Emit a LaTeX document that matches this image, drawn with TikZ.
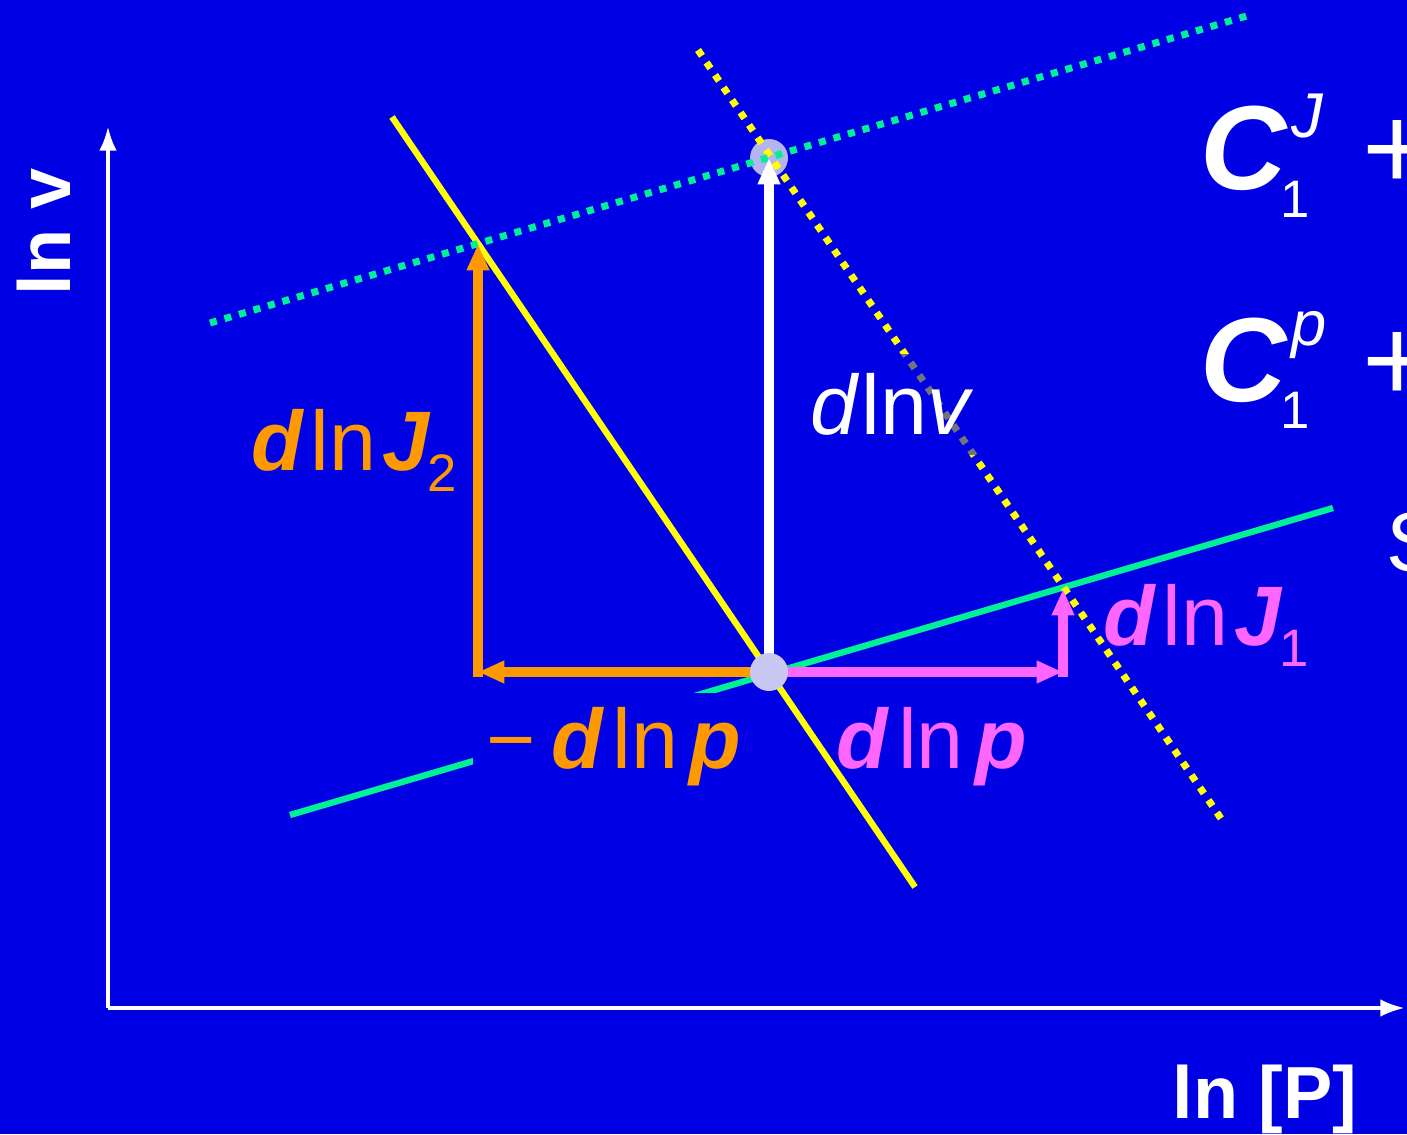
\documentclass[tikz,border=0pt]{standalone}
\usepackage{fontspec}
\setmainfont{Liberation Sans}
\usetikzlibrary{arrows.meta, positioning}
\definecolor{bgblue}{RGB}{0,0,228}
\definecolor{myyellow}{RGB}{255,255,0}
\definecolor{mygreen}{RGB}{0,240,150}
\definecolor{myorange}{RGB}{255,153,0}
\definecolor{mypink}{RGB}{255,102,255}
\definecolor{mydot}{RGB}{200,200,242}
\newcommand{\bi}[1]{\textbf{\textit{#1}}}
\newcommand{\gp}{\kern1.7pt}
\newcommand{\gpp}{\kern3.2pt}
\newcommand{\labsize}{\fontsize{24}{28}\selectfont}
\newcommand{\axsize}{\fontsize{21}{25}\selectfont\bfseries}
\newcommand{\bigsize}{\fontsize{34}{40}\selectfont}
\newcommand{\lowidx}[1]{\kern-0.8pt\raisebox{-6pt}{\fontsize{15}{15}\selectfont #1}}
\tikzset{
  >=latex,
  % assi
  axis arrow/.style={white,line width=1.2pt,-{Latex[length=7pt,width=5pt]}},
  % rette
  curve/.style={line width=1.8pt},
  curve dotted/.style={line width=2pt,dash pattern=on 2pt off 2.3pt},
  % spostamenti
  shift arrow/.style={line width=2.8pt,-{Triangle[length=7.5pt,width=6pt]}},
  state pt/.style={circle,fill=mydot,inner sep=0,minimum size=10.8pt},
  lbl/.style={inner sep=0pt,anchor=base west,font=\labsize},
  lbl box/.style={lbl,inner xsep=4pt,inner ysep=4pt}
}
\begin{document}
\begin{tikzpicture}[x=0.01cm,y=-0.01cm]
  \useasboundingbox (0,0) rectangle (1407,1134);
  \fill[bgblue] (0,0) rectangle (1407,1134);
  \clip (0,0) rectangle (1407,1134);

  % punti notevoli
  \coordinate (eq) at (769,672);
  \coordinate (new) at (769,158);
  \coordinate (j2top) at (478,244);
  \coordinate (j2bot) at (478,672);
  \coordinate (j1bot) at (1063,672);
  \coordinate (j1top) at (1063,589);
  \coordinate (orig) at (108,1008);
  \coordinate (yend) at (108,126);
  \coordinate (xend) at (1405,1008);
  \coordinate (ys1) at (392,117);   \coordinate (ys2) at (915,887);
  \coordinate (yd1) at (698,50);    \coordinate (yd2) at (1222,820);
  \coordinate (gs1) at (290,815);   \coordinate (gs2) at (1333,508);
  \coordinate (gd1) at (210,323);   \coordinate (gd2) at (1250,15);

  \node[state pt,fill opacity=0.9] (newpt) at (new) {};

  % assi
  \draw[axis arrow] (orig) -- (yend);
  \draw[axis arrow] (orig) -- (xend);
  \node[rotate=90,anchor=base west,inner sep=0,text=white,font=\axsize] (ylab) at (70,296) {ln v};
  \node[anchor=base west,inner sep=0,text=white,font=\axsize] (xlab) at (1172,1118) {ln [P]};

  % rette
  \draw[curve,myyellow] (ys1) -- (ys2);
  \draw[curve,mygreen] (gs1) -- (gs2);
  \draw[curve dotted,myyellow] (yd1) -- (yd2);
  \draw[curve dotted,mygreen] (gd1) -- (gd2);

  % frecce
  \draw[shift arrow,white] (eq) -- (new);
  \draw[shift arrow,myorange] (eq) -- (j2bot);
  \draw[shift arrow,myorange,shorten <=-1.4pt] (j2bot) -- (j2top);
  \draw[shift arrow,mypink] (eq) -- (j1bot);
  \draw[shift arrow,mypink,shorten <=-1.4pt] (j1bot) -- (j1top);

  % etichette
  \node[lbl,text=myorange] (lj2) at (251,470) {\bi{d}\gp ln\gp\bi{J}\lowidx{2}};
  \node[lbl box,inner ysep=5.5pt,fill=bgblue,fill opacity=0.55,text opacity=1,text=white] (lv) at (796,435) {\textit{d}\kern0.5pt ln\textit{v}};
  \node[lbl box,fill=bgblue,text=myorange] (lmp) at (472,768) {−\kern4.4pt\bi{d}\kern2.4pt ln\gpp\bi{p}};
  \node[lbl,text=mypink] (lp) at (836,768) {\bi{d}\kern2.4pt ln\gpp\bi{p}};
  \node[lbl,text=mypink] (lj1) at (1103,645) {\bi{d}\gp ln\gp\bi{J}\lowidx{1}};

  % legenda (tagliata dal bordo)
  \node[lbl,text=white,font=\bigsize] (cj) at (1200,190)
    {\bi{C}\kern1pt\rlap{\raisebox{15pt}{\fontsize{18}{18}\selectfont\textit{J}}}\kern-3.4pt\raisebox{-7.8pt}{\fontsize{15}{15}\selectfont 1}\kern15pt+};
  \node[lbl,text=white,font=\bigsize] (cp) at (1200,402)
    {\bi{C}\kern1pt\rlap{\raisebox{16pt}{\fontsize{18}{18}\selectfont\textit{p}}}\kern-3.4pt\raisebox{-7.6pt}{\fontsize{15}{15}\selectfont 1}\kern15pt+};
  \node[lbl,text=white] (sl) at (1386,571) {S};

  \node[state pt] (eqpt) at (eq) {};
\end{tikzpicture}
\end{document}
